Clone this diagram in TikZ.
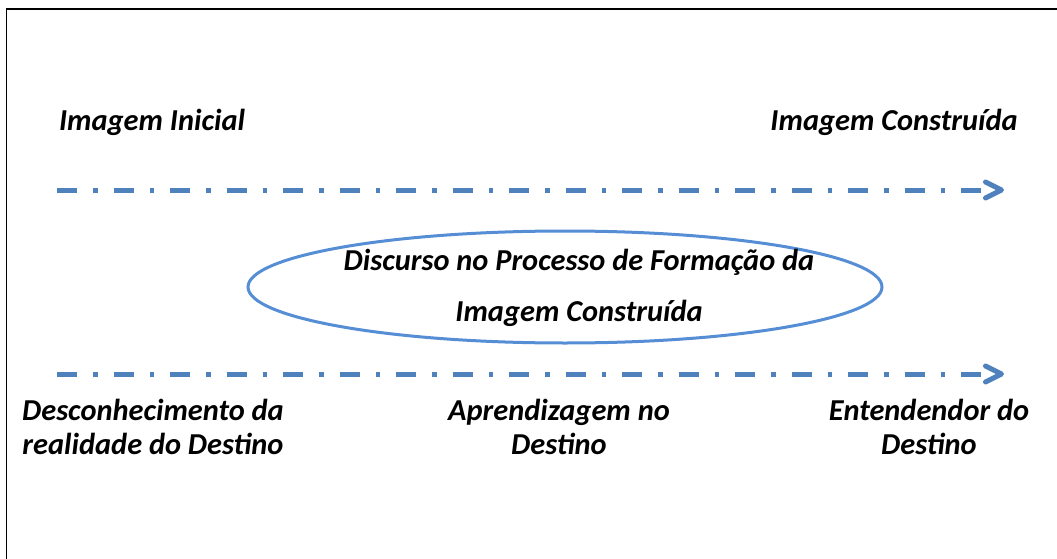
\documentclass[tikz,border=0pt]{standalone}
\usepackage{fontspec}
\setmainfont{Carlito}
\usetikzlibrary{arrows.meta,positioning,shapes.geometric}
\definecolor{flowblue}{HTML}{4F81BD}
\definecolor{ringblue}{HTML}{558ED5}

\tikzset{
  labeltext/.style={font=\fontsize{30.4}{34.5}\selectfont\bfseries\itshape,align=center,inner sep=0pt},
  flowline/.style={flowblue,line width=5pt,dash pattern=on 20pt off 16pt on 4.5pt off 16pt,
    -{Straight Barb[length=16pt,width=16pt,line cap=round,line join=round]}},
}

\begin{document}
\begin{tikzpicture}[x=1pt,y=-1pt]
	\useasboundingbox (0,0) rectangle (1057,559);
	
	% frame
	\draw[line width=1.2pt] (6.5,559) -- (6.5,9) -- (1057,9);
	
	% top line
	\node[labeltext,anchor=base] (inicial) at (152,131) {Imagem Inicial};
	\node[labeltext,anchor=base] (construida) at (894,131) {Imagem Construída};
	\coordinate (topStart) at (57,190);
	\coordinate (topEnd) at (1004,190);
	\draw[flowline] (topStart) -- (topEnd);
	
	% ellipse
	\node[draw=ringblue,line width=3pt,ellipse,minimum width=634pt,minimum height=112pt,inner sep=0pt] (discurso) at (565,287) {};
	\node[labeltext,font=\fontsize{30.4}{51}\selectfont\bfseries\itshape] (discursoText) at (579,288) {Discurso no Processo de Formação da\\Imagem Construída};
	
	% bottom line
	\coordinate (botStart) at (57,374);
	\coordinate (botEnd) at (1004,374);
	\draw[flowline] (botStart) -- (botEnd);
	\node[labeltext] (desconhecimento) at (153,427) {Desconhecimento da\\realidade do Destino};
	\node[labeltext] (aprendizagem) at (559,427) {Aprendizagem no\\Destino};
	\node[labeltext] (entendedor) at (929,427) {Entendendor do\\Destino};
	
\end{tikzpicture}
\end{document}
